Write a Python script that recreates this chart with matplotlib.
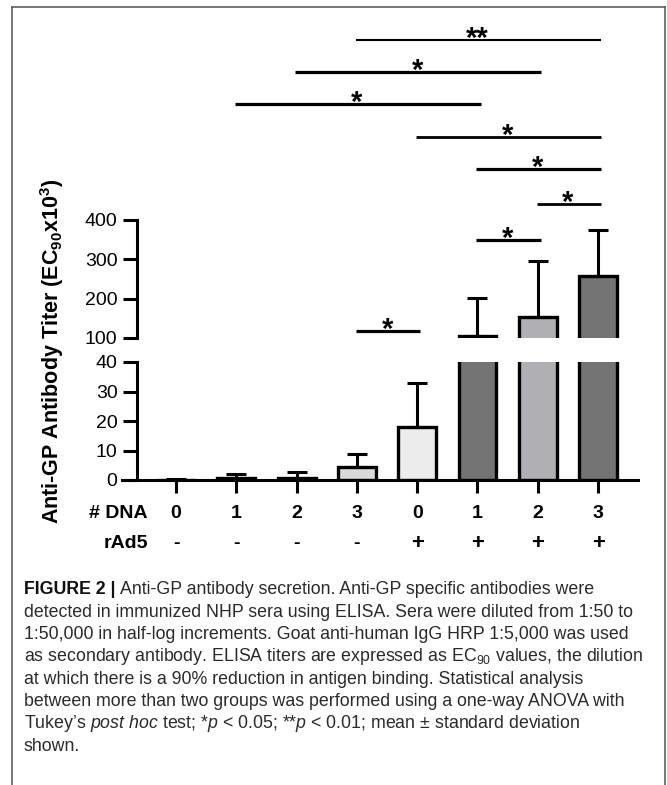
import matplotlib.pyplot as plt
import numpy as np
from matplotlib.lines import Line2D

plt.rcParams['font.family'] = ['Liberation Sans', 'DejaVu Sans']
plt.rcParams['mathtext.fontset'] = 'custom'
plt.rcParams['mathtext.rm'] = 'Liberation Sans'
plt.rcParams['mathtext.it'] = 'Liberation Sans:italic'
plt.rcParams['mathtext.bf'] = 'Liberation Sans:bold'

# data
dna = ['0', '1', '2', '3', '0', '1', '2', '3']
rad5 = ['-', '-', '-', '-', '+', '+', '+', '+']
means = [0.1, 0.6, 0.7, 4.5, 18.0, 105, 153, 258]
sds = [0.2, 1.3, 1.9, 4.2, 15.0, 97, 143, 117]
colors = ['#ffffff', '#737373', '#b0b0b4', '#d9d9d9', '#ececec', '#737373', '#b0b0b4', '#737373']

sig_pairs = [(3, 7), (2, 6), (1, 5), (4, 7), (5, 7), (6, 7), (5, 6), (3, 4)]
sig_heights = [858, 776, 695, 611, 530, 441, 349, 118]
sig_labels = ['**', '*', '*', '*', '*', '*', '*', '*']
sig_lw = [1.5, 2.3, 2.3, 2.0, 2.3, 2.0, 2.3, 2.3]

caption = [
    "detected in immunized NHP sera using ELISA. Sera were diluted from 1:50 to",
    "1:50,000 in half-log increments. Goat anti-human IgG HRP 1:5,000 was used",
    "as secondary antibody. ELISA titers are expressed as EC$_{90}$ values, the dilution",
    "at which there is a 90% reduction in antigen binding. Statistical analysis",
    "between more than two groups was performed using a one-way ANOVA with",
    "Tukey\u2019s $\\mathit{post\\ hoc}$ test; *$\\mathit{p}$ < 0.05; **$\\mathit{p}$ < 0.01; mean \u00b1 standard deviation",
    "shown.",
]

W, H = 667, 785
fig = plt.figure(figsize=(W / 100, H / 100), dpi=100)

x = np.arange(len(means))
x0, dx = 176, 60.3          # pixel of first group, pixel step
xl = ((122 - x0) / dx, (638 - x0) / dx)
spine_x = (137 - x0) / dx

ax_lo = fig.add_axes([122 / W, 1 - 480 / H, 516 / W, 118 / H])
ax_up = fig.add_axes([122 / W, 1 - 338 / H, 516 / W, 118 / H])

for ax in (ax_lo, ax_up):
    ax.bar(x, means, width=0.63, color=colors, edgecolor='black', linewidth=2.4, zorder=2)
    ax.errorbar(x, means, yerr=[np.zeros(len(sds)), sds], fmt='none', ecolor='black',
                elinewidth=2.2, capsize=7.5, capthick=2.2, zorder=3)
    ax.set_xlim(*xl)
    ax.spines['top'].set_visible(False)
    ax.spines['right'].set_visible(False)
    ax.spines['left'].set_position(('data', spine_x))
    ax.spines['left'].set_linewidth(2.2)
    ax.spines['bottom'].set_linewidth(2.2)
    ax.tick_params(axis='y', direction='out', length=10, width=2.2, labelsize=14, pad=4)
    ax.tick_params(axis='y', which='minor', direction='in', length=6, width=2.2)

ax_lo.set_ylim(0, 40)
ax_lo.set_yticks([0, 10, 20, 30, 40])
ax_lo.set_yticks([40], minor=True)
ax_lo.set_xticks(x)
ax_lo.set_xticklabels([])
ax_lo.tick_params(axis='x', direction='out', length=9.5, width=2.2)

ax_up.set_ylim(100, 400)
ax_up.set_yticks([100, 200, 300, 400])
ax_up.set_yticks([100], minor=True)
ax_up.spines['bottom'].set_visible(False)
ax_up.set_xticks([])

# group labels under the axis
tr = ax_lo.get_xaxis_transform()
for i in x:
    ax_lo.text(i, -0.283, dna[i], transform=tr, ha='center', va='center',
               fontsize=14, weight='bold')
    ax_lo.text(i, -0.534, rad5[i], transform=tr, ha='center', va='center',
               fontsize=16 if rad5[i] == '+' else 14, weight='heavy')
ax_lo.text((148 - x0) / dx, -0.283, '# DNA', transform=tr, ha='right', va='center',
           fontsize=14, weight='bold')
ax_lo.text((148 - x0) / dx, -0.534, 'rAd5', transform=tr, ha='right', va='center',
           fontsize=14, weight='bold')

# significance bars
for (a, b), h, lab, lw in zip(sig_pairs, sig_heights, sig_labels, sig_lw):
    ax_up.plot([a - 0.02, b + 0.05], [h, h], color='black', lw=lw,
               solid_capstyle='butt', clip_on=False)
    ax_up.annotate(lab, xy=((a + b) / 2, h), xytext=(0, -5), textcoords='offset points',
                   ha='center', va='baseline', fontsize=21, weight='bold',
                   annotation_clip=False)

fig.text(52 / W, 1 - 351 / H, 'Anti-GP Antibody Titer (EC$_{\\mathbf{90}}$x10$^{\\mathbf{3}}$)',
         rotation=90, ha='center', va='center', fontsize=15.5, weight='bold')

# frame around figure + caption
bc = '#606060'
fig.add_artist(Line2D([12 / W, 12 / W], [0, 1 - 7 / H], color=bc, lw=1.2))
fig.add_artist(Line2D([12 / W, 665 / W], [1 - 7 / H, 1 - 7 / H], color=bc, lw=1.2))
fig.add_artist(Line2D([665 / W, 665 / W], [0, 1 - 7 / H], color=bc, lw=1.2))

cap_x = 24 / W
cap_y0 = 590
cap_dy = 22.3
cap_fs = 12.8
tcol = '#2a2a2a'
t1 = fig.text(cap_x, 1 - cap_y0 / H, 'FIGURE 2 |', fontsize=cap_fs, weight='bold',
              color='#111111', va='center')
bb = t1.get_window_extent(renderer=fig.canvas.get_renderer())
fig.text(bb.x1 / W + 4 / W, 1 - cap_y0 / H,
         'Anti-GP antibody secretion. Anti-GP specific antibodies were',
         fontsize=cap_fs, color=tcol, va='center')
for k, line in enumerate(caption):
    fig.text(cap_x, 1 - (cap_y0 + (k + 1) * cap_dy) / H, line, fontsize=cap_fs,
             color=tcol, va='center')

fig.savefig('out.png', dpi=100)
